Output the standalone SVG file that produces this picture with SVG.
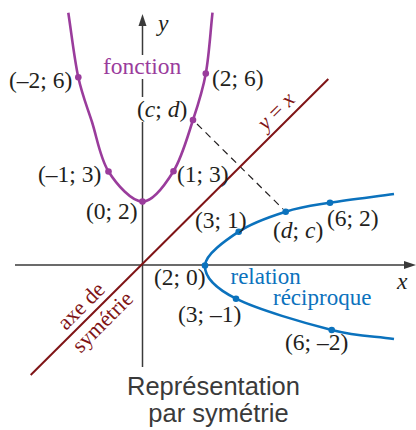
<svg xmlns="http://www.w3.org/2000/svg" width="416" height="430" viewBox="0 0 416 430">
<style>
.lbl{font-family:"Liberation Serif","Times New Roman",serif;font-size:23.5px;fill:#231f20}
.ax{stroke:#3a3a3a;stroke-width:1.5;fill:none}
.fn{stroke:#9a3c9c;stroke-width:2.6;fill:none}
.rel{stroke:#0b72bd;stroke-width:2.6;fill:none}
.sym{stroke:#7f1416;stroke-width:2;fill:none}
.pf{fill:#9a3c9c}
.pr{fill:#0b72bd}
.bl{font-family:"Liberation Serif","Times New Roman",serif;font-size:23px;fill:#0b72bd}
.red{font-family:"Liberation Serif","Times New Roman",serif;font-size:22px;fill:#7f1416}
.cap{font-family:"Liberation Sans",Arial,sans-serif;font-size:25.5px;fill:#3a3a3a}
</style>
<rect width="416" height="430" fill="#fff"/>
<g id="axes">
<line class="ax" x1="15" y1="265" x2="406" y2="265"/>
<polygon points="416,265 404,261 404,269" fill="#3a3a3a"/>
<line class="ax" x1="142.5" y1="24" x2="142.5" y2="55"/>
<line class="ax" x1="142.5" y1="79" x2="142.5" y2="97"/>
<line class="ax" x1="142.5" y1="122" x2="142.5" y2="367"/>
<polygon points="142.5,14 138.5,26 146.5,26" fill="#3a3a3a"/>
<text class="lbl" x="158" y="31" font-style="italic">y</text>
<text class="lbl" x="397" y="289" font-style="italic">x</text>
</g>
<g id="connectors">
<line x1="197" y1="124" x2="283" y2="209" stroke="#231f20" stroke-width="1.2" stroke-dasharray="7 5"/>
</g>
<g id="symmetry-axis">
<line class="sym" x1="30.7" y1="375" x2="328.3" y2="79"/>
<text class="red" transform="translate(281,116) rotate(-45)" text-anchor="middle"><tspan font-style="italic">y</tspan> = <tspan font-style="italic">x</tspan></text>
<text class="red" transform="translate(86,311) rotate(-45)" text-anchor="middle">axe de</text>
<text class="red" transform="translate(107.5,327) rotate(-45)" text-anchor="middle">symétrie</text>
</g>
<g id="fonction">
<path class="fn" d="M68.3,12.7 C71.6,34.2 74.35,59.1 78.3,77.3 C82.25,95.5 86.97,106.3 92,122 C97.03,137.7 100.1,158.2 108.5,171.5 C116.9,184.8 131.7,201.6 142.5,201.6 C153.3,201.6 165.1,184.8 173.5,171.2 C181.9,157.6 187.6,136.3 193,120 C198.4,103.7 202.55,91.4 205.8,73.5 C209.05,55.6 210.3,33 212.5,12.7"/>
<circle class="pf" cx="78.3" cy="77.3" r="3.3"/>
<circle class="pf" cx="108.5" cy="171.5" r="3.3"/>
<circle class="pf" cx="142.5" cy="201.6" r="3.3"/>
<circle class="pf" cx="173.5" cy="171.2" r="3.3"/>
<circle class="pf" cx="193" cy="120" r="3.3"/>
<circle class="pf" cx="205.8" cy="73.5" r="3.3"/>
<text class="lbl" x="103" y="73.5" style="fill:#9a3c9c">fonction</text>
<text class="lbl" x="9" y="88">(–2; 6)</text>
<text class="lbl" x="212" y="86">(2; 6)</text>
<text class="lbl" x="137" y="117">(<tspan font-style="italic">c</tspan>; <tspan font-style="italic">d</tspan>)</text>
<text class="lbl" x="38" y="181.5">(–1; 3)</text>
<text class="lbl" x="177" y="181.5">(1; 3)</text>
<text class="lbl" x="86" y="218.5">(0; 2)</text>
</g>
<g id="relation">
<path class="rel" d="M394,194 C372.7,196.9 348.05,199.75 330,202.7 C311.95,205.65 300.9,206.9 285.7,211.7 C270.5,216.5 252.15,222.7 238.7,231.7 C225.25,240.7 205.45,254.3 205,265.5 C204.55,276.7 214.9,287.95 236,298.7 C257.1,309.45 305.4,323.3 331.7,330 C358,336.7 373.2,336 394,339"/>
<circle class="pr" cx="330" cy="202.7" r="3.3"/>
<circle class="pr" cx="285.7" cy="211.7" r="3.3"/>
<circle class="pr" cx="238.7" cy="231.7" r="3.3"/>
<circle class="pr" cx="205" cy="265.5" r="3.3"/>
<circle class="pr" cx="236" cy="298.7" r="3.3"/>
<circle class="pr" cx="331.7" cy="330" r="3.3"/>
<text class="bl" x="230.5" y="284">relation</text>
<text class="bl" x="273" y="305">réciproque</text>
<text class="lbl" x="195" y="228">(3; 1)</text>
<text class="lbl" x="273" y="237.5">(<tspan font-style="italic">d</tspan>; <tspan font-style="italic">c</tspan>)</text>
<text class="lbl" x="327" y="226">(6; 2)</text>
<text class="lbl" x="154" y="285">(2; 0)</text>
<text class="lbl" x="178" y="321.5">(3; –1)</text>
<text class="lbl" x="285" y="350">(6; –2)</text>
</g>
<g id="caption">
<text class="cap" x="213.5" y="395" text-anchor="middle">Représentation</text>
<text class="cap" x="218.5" y="422" text-anchor="middle">par symétrie</text>
</g>
</svg>
